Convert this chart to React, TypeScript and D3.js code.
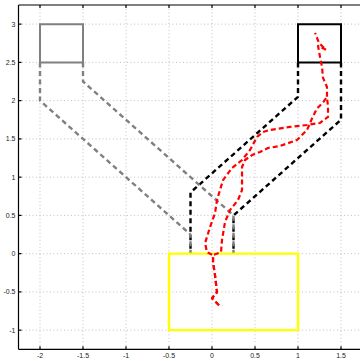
import * as d3 from "d3";

// axis ticks
const xTicks = [-2, -1.5, -1, -0.5, 0, 0.5, 1, 1.5];
const yTicks = [-1, -0.5, 0, 0.5, 1, 1.5, 2, 2.5, 3];

// boxes (corners)
const startBox: [number, number][] = [[-2, 2.5], [-1.5, 2.5], [-1.5, 3], [-2, 3]];
const goalBox: [number, number][] = [[1, 2.5], [1.5, 2.5], [1.5, 3], [1, 3]];
const yellowBox: [number, number][] = [[-0.5, -1], [1, -1], [1, 0], [-0.5, 0]];

// dashed corridors
const grayLeft: [number, number][] = [[-2, 2.5], [-2, 2], [-0.25, 0.25], [-0.25, 0]];
const grayRight: [number, number][] = [[-1.5, 2.5], [-1.5, 2.25], [0.25, 0.5], [0.25, 0]];
const blackLeft: [number, number][] = [[1, 2.5], [1, 2.05], [-0.25, 0.8], [-0.25, 0]];
const blackRight: [number, number][] = [[1.5, 2.5], [1.5, 1.75], [0.25, 0.5], [0.25, 0]];

// red trajectories
const stem: [number, number][] = [
  [0.081, -0.674], [0, -0.582], [0.058, -0.504], [0.035, -0.281], [0.012, -0.111], [0.012, -0.02],
];
const trajA: [number, number][] = [
  [-0.058, 0.02], [-0.081, 0.137], [-0.023, 0.347], [0.035, 0.53], [0.058, 0.7], [0.093, 0.831],
  [0.128, 0.962], [0.233, 1.119], [0.349, 1.224], [0.442, 1.355], [0.523, 1.525], [0.593, 1.59],
  [0.674, 1.617], [0.907, 1.656], [1.105, 1.682], [1.256, 1.708], [1.349, 1.787], [1.349, 1.918],
  [1.337, 2.049], [1.337, 2.179], [1.291, 2.297], [1.279, 2.441], [1.256, 2.572], [1.233, 2.716],
  [1.326, 2.664], [1.244, 2.755], [1.198, 2.886],
];
const trajB: [number, number][] = [
  [0.105, 0.02], [0.116, 0.177], [0.151, 0.412], [0.209, 0.569], [0.302, 0.7], [0.349, 0.831],
  [0.349, 0.988], [0.349, 1.132], [0.384, 1.224], [0.465, 1.289], [0.558, 1.329], [0.651, 1.381],
  [0.791, 1.407], [0.988, 1.486], [1.105, 1.616], [1.163, 1.767], [1.221, 1.898], [1.291, 1.976],
  [1.337, 2.049],
];

const W = 360;
const H = 361;

export default function App() {
  const x = d3.scaleLinear().domain([-2.25, 1.75]).range([18.5, 362.5]);
  const y = d3.scaleLinear().domain([-1.25, 3.25]).range([349.3, 5]);
  const line = d3.line<[number, number]>().x(d => x(d[0])).y(d => y(d[1]));
  const closed = (pts: [number, number][]) => line(pts) + "Z";

  const [x0, x1] = x.range();
  const [y0, y1] = y.range();
  const font = "'Liberation Sans', Arial, sans-serif";

  return (
    <div style={{ position: "fixed", left: 0, top: 0 }}>
      <svg width={W} height={H} style={{ display: "block", background: "#fff" }}>
        {/* grid */}
        <g stroke="#b0b0b0" strokeWidth={0.8} strokeDasharray="1,2.5">
          {xTicks.map(t => (
            <line key={"gx" + t} x1={x(t)} x2={x(t)} y1={y0} y2={y1} />
          ))}
          {yTicks.map(t => (
            <line key={"gy" + t} x1={x0} x2={x1} y1={y(t)} y2={y(t)} />
          ))}
        </g>

        {/* corridors */}
        <g fill="none" strokeWidth={2.4} strokeDasharray="5,3.5" strokeLinejoin="round">
          <path d={line(blackLeft)!} stroke="#000" />
          <path d={line(blackRight)!} stroke="#000" />
          <path d={line(grayLeft)!} stroke="#808080" />
          <path d={line(grayRight)!} stroke="#808080" />
        </g>

        {/* boxes */}
        <g fill="none" strokeWidth={2}>
          <path d={closed(startBox)} stroke="#808080" />
          <path d={closed(goalBox)} stroke="#000" />
          <path d={closed(yellowBox)} stroke="#ffff00" strokeWidth={2.4} />
        </g>

        {/* red trajectories */}
        <g fill="none" stroke="#ff0000" strokeWidth={2.2} strokeDasharray="5,3" strokeLinejoin="round">
          <path d={line([...stem, ...trajA])!} />
          <path d={line([...stem, ...trajB])!} />
        </g>

        {/* axes box and ticks */}
        <g stroke="#000" strokeWidth={1.2} fill="none">
          <line x1={x0} x2={x0} y1={y0} y2={y1} />
          <line x1={x0} x2={x1} y1={y0} y2={y0} />
          <line x1={x0} x2={x1} y1={y1} y2={y1} />
          {xTicks.map(t => (
            <g key={"tx" + t}>
              <line x1={x(t)} x2={x(t)} y1={y0} y2={y0 - 3} />
              <line x1={x(t)} x2={x(t)} y1={y1} y2={y1 + 3} />
            </g>
          ))}
          {yTicks.map(t => (
            <line key={"ty" + t} x1={x0} x2={x0 + 3} y1={y(t)} y2={y(t)} />
          ))}
        </g>

        {/* tick labels */}
        <g fontFamily={font} fontSize={7} fill="#222">
          {xTicks.map(t => (
            <text key={"lx" + t} x={x(t)} y={y0 + 9} textAnchor="middle">
              {t}
            </text>
          ))}
          {yTicks.map(t => (
            <text key={"ly" + t} x={x0 - 3} y={y(t) + 2.5} textAnchor="end">
              {t}
            </text>
          ))}
        </g>
      </svg>
    </div>
  );
}
